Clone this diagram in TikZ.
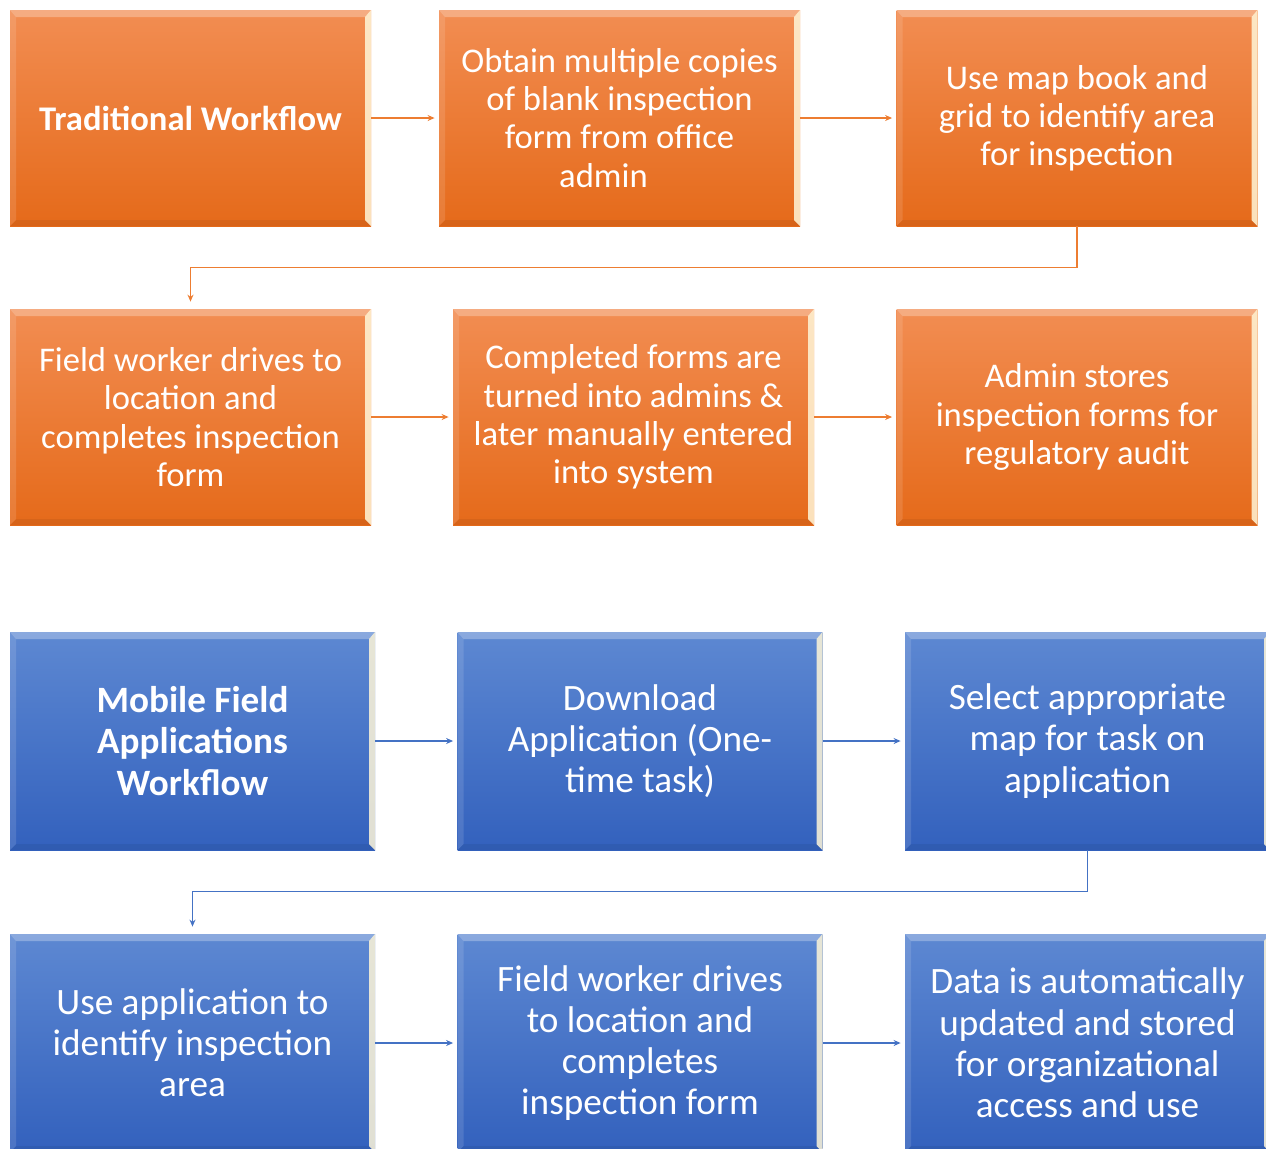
\documentclass[tikz,border=0pt]{standalone}
\usepackage{fontspec}
\setmainfont{Carlito}
\usetikzlibrary{arrows.meta}
\definecolor{orTop}{HTML}{F28D52}
\definecolor{orBot}{HTML}{E56A1A}
\definecolor{orLine}{HTML}{ED7D31}
\definecolor{blTop}{HTML}{5D88D2}
\definecolor{blBot}{HTML}{3361BD}
\definecolor{blLine}{HTML}{4472C4}
\definecolor{glint}{HTML}{FFF6D8}
\tikzset{
  bevel/.style={
    path picture={
      \fill[white,opacity=0.28] (path picture bounding box.north west) -- (path picture bounding box.north east)
        -- ([xshift=-3pt,yshift=-3.5pt]path picture bounding box.north east) -- ([xshift=3pt,yshift=-3.5pt]path picture bounding box.north west) -- cycle;
      \fill[white,opacity=0.12] (path picture bounding box.north west) -- ([xshift=3pt,yshift=-3.5pt]path picture bounding box.north west)
        -- ([xshift=3pt,yshift=3pt]path picture bounding box.south west) -- (path picture bounding box.south west) -- cycle;
      \fill[glint,opacity=0.85] (path picture bounding box.north east) -- ([xshift=-3pt,yshift=-3.5pt]path picture bounding box.north east)
        -- ([xshift=-3pt,yshift=3pt]path picture bounding box.south east) -- (path picture bounding box.south east) -- cycle;
      \fill[black,opacity=0.06] (path picture bounding box.south west) -- ([xshift=3pt,yshift=3pt]path picture bounding box.south west)
        -- ([xshift=-3pt,yshift=3pt]path picture bounding box.south east) -- (path picture bounding box.south east) -- cycle;
    }},
  orbox/.style={bevel, rectangle, top color=orTop, bottom color=orBot, text=white,
    minimum width=180.5pt, minimum height=108pt, inner sep=0pt, align=center,
    font=\fontsize{17.3}{19.1}\selectfont},
  blbox/.style={bevel, rectangle, top color=blTop, bottom color=blBot, text=white,
    minimum width=182.5pt, minimum height=109pt, inner sep=0pt, align=center,
    font=\fontsize{18.6}{20.6}\selectfont},
  orarr/.style={draw=orLine, line width=0.7pt, -{Stealth[length=3.5pt,width=3pt]}, shorten >=2pt},
  blarr/.style={draw=blLine, line width=0.7pt, -{Stealth[length=3.5pt,width=3pt]}, shorten >=2pt},
}
\begin{document}
\begin{tikzpicture}[x=0.5pt,y=-0.5pt]
\useasboundingbox (0,0) rectangle (1266,1148);
\clip (0,0) rectangle (1266,1148);

% traditional workflow
\node[orbox] (a) at (190.5,118) {\textbf{Traditional Workflow}};
\node[orbox] (b) at (619.5,118) {Obtain multiple copies\\of blank inspection\\form from office\\admin\hspace*{16pt}};
\node[orbox] (c) at (1077,118) {Use map book and\\grid to identify area\\for inspection};
\node[orbox] (d) at (190.5,417) {Field worker drives to\\location and\\completes inspection\\form};
\node[orbox] (e) at (633.5,417) {Completed forms are\\turned into admins \&\\later manually entered\\into system};
\node[orbox] (f) at (1077,417) {Admin stores\\inspection forms for\\regulatory audit};

\draw[orarr] (a) -- (b);
\draw[orarr] (b) -- (c);
\draw[orarr, shorten >=3.5pt] (c.south) -- ++(0,41) -| (d.north);
\draw[orarr] (d) -- (e);
\draw[orarr] (e) -- (f);

% mobile field applications workflow
\node[blbox] (g) at (192.5,741) {\textbf{Mobile Field}\\\textbf{Applications}\\\textbf{Workflow}};
\node[blbox] (h) at (640,741) {Download\\Application (One-\\time task)};
\node[blbox] (i) at (1087.5,741) {Select appropriate\\map for task on\\application};
\node[blbox] (j) at (192.5,1043) {Use application to\\identify inspection\\area};
\node[blbox] (k) at (640,1043) {Field worker drives\\to location and\\completes\\inspection form};
\node[blbox] (l) at (1087.5,1043) {Data is automatically\\updated and stored\\for organizational\\access and use};

\draw[blarr] (g) -- (h);
\draw[blarr] (h) -- (i);
\draw[blarr, shorten >=3.5pt] (i.south) -- ++(0,41) -| (j.north);
\draw[blarr] (j) -- (k);
\draw[blarr] (k) -- (l);
\end{tikzpicture}
\end{document}
